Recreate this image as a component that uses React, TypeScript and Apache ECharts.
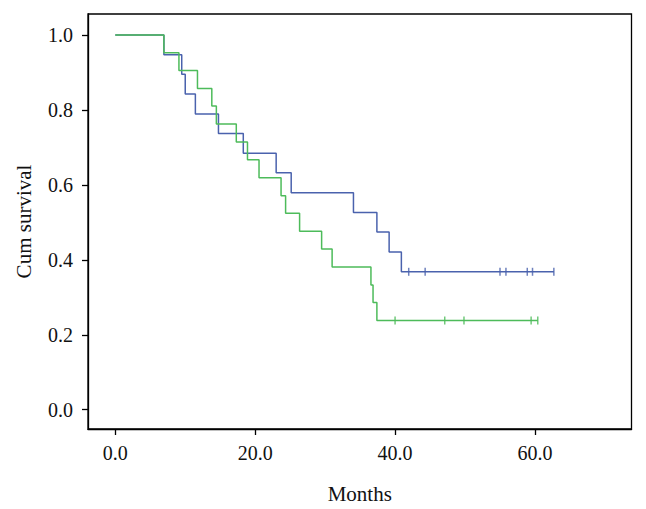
import React, { useEffect, useRef } from "react";
import * as echarts from "echarts";

// Kaplan–Meier steps (time in months, cumulative survival)
const blueTimes = [0, 6.95, 9.5, 10.0, 11.45, 14.75, 18.3, 23.0, 25.15, 34.05, 37.4, 39.15, 40.9, 62.7];
const blueSurv = [1.0, 0.947, 0.895, 0.842, 0.789, 0.737, 0.684, 0.632, 0.579, 0.526, 0.474, 0.421, 0.368, 0.368];
const blueCensorTimes = [41.95, 44.3, 55.0, 55.85, 58.9, 59.65, 62.7];
const blueCensorSurv = [0.368, 0.368, 0.368, 0.368, 0.368, 0.368, 0.368];

const greenTimes = [0, 6.95, 9.1, 11.75, 13.8, 14.45, 17.3, 18.9, 20.55, 23.7, 24.35, 26.35, 29.5, 31.0, 36.55, 36.85, 37.4, 60.4];
const greenSurv = [1.0, 0.952, 0.905, 0.857, 0.810, 0.762, 0.714, 0.667, 0.619, 0.571, 0.524, 0.476, 0.429, 0.381, 0.333, 0.286, 0.238, 0.238];
const greenCensorTimes = [40.0, 47.1, 49.85, 59.45, 60.4];
const greenCensorSurv = [0.238, 0.238, 0.238, 0.238, 0.238];

const xTicks = [0, 20, 40, 60];
const yTicks = [0, 0.2, 0.4, 0.6, 0.8, 1.0];

const BLUE = "#4a62ad";
const GREEN = "#4dbb5a";
const FONT = "'Liberation Serif', 'DejaVu Serif', serif";

export default function App() {
  const ref = useRef<HTMLDivElement>(null);
  useEffect(() => {
    document.body.style.margin = "0";
    const chart = echarts.init(ref.current!, undefined, { renderer: "svg" });
    const pairs = (xs: number[], ys: number[]) => xs.map((x, i) => [x, ys[i]]);
    chart.setOption({
      animation: false,
      backgroundColor: "#ffffff",
      grid: {
        left: 88,
        top: 14,
        right: 14.5,
        bottom: 77,
        show: true,
        borderColor: "#000",
        borderWidth: 1.3,
      },
      xAxis: {
        type: "value",
        min: -3.9,
        max: 73.8,
        name: "Months",
        nameLocation: "middle",
        nameGap: 54,
        nameTextStyle: { fontFamily: FONT, fontSize: 21, color: "#111" },
        axisLine: { show: true, onZero: false, lineStyle: { color: "#000", width: 1.3 } },
        axisTick: { show: true, customValues: xTicks, length: 6, lineStyle: { color: "#000", width: 1.3 } },
        axisLabel: {
          customValues: xTicks,
          formatter: (v: number) => v.toFixed(1),
          fontFamily: FONT,
          fontSize: 20,
          color: "#111",
          margin: 14,
        },
        splitLine: { show: false },
      },
      yAxis: {
        type: "value",
        min: -0.0514,
        max: 1.0557,
        name: "Cum survival",
        nameLocation: "middle",
        nameGap: 54,
        nameTextStyle: { fontFamily: FONT, fontSize: 21, color: "#111" },
        axisLine: { show: true, onZero: false, lineStyle: { color: "#000", width: 1.3 } },
        axisTick: { show: true, customValues: yTicks, length: 6, lineStyle: { color: "#000", width: 1.3 } },
        axisLabel: {
          customValues: yTicks,
          formatter: (v: number) => v.toFixed(1),
          fontFamily: FONT,
          fontSize: 20,
          color: "#111",
          margin: 15,
        },
        splitLine: { show: false },
      },
      series: [
        {
          type: "line",
          step: "end",
          data: pairs(blueTimes, blueSurv),
          showSymbol: false,
          lineStyle: { color: BLUE, width: 1.5 },
          itemStyle: { color: BLUE },
          z: 2,
        },
        {
          type: "line",
          step: "end",
          data: pairs(greenTimes, greenSurv),
          showSymbol: false,
          lineStyle: { color: GREEN, width: 1.5 },
          itemStyle: { color: GREEN },
          z: 3,
        },
        {
          type: "scatter",
          data: pairs(blueCensorTimes, blueCensorSurv),
          symbol: "rect",
          symbolSize: [1.5, 8],
          itemStyle: { color: BLUE },
          z: 4,
        },
        {
          type: "scatter",
          data: pairs(greenCensorTimes, greenCensorSurv),
          symbol: "rect",
          symbolSize: [1.5, 8],
          itemStyle: { color: GREEN },
          z: 4,
        },
      ],
    });
    return () => chart.dispose();
  }, []);
  return <div ref={ref} style={{ width: 646, height: 509 }} />;
}
